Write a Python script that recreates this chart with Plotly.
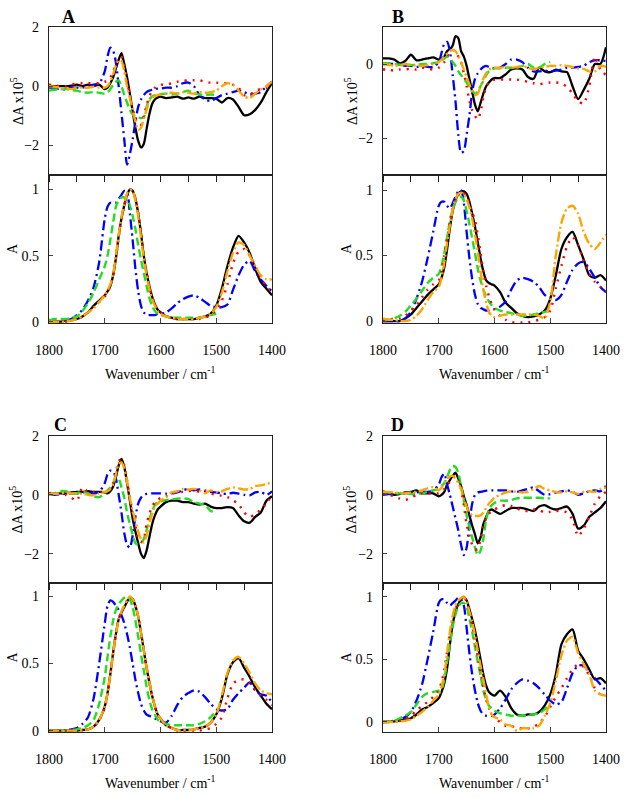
import plotly.graph_objects as go

# ---------------- data ----------------
G = [1800, 1790, 1780, 1770, 1760, 1750, 1740, 1730, 1720, 1710,
     1700, 1695, 1690, 1685, 1680, 1675, 1670, 1665, 1660, 1655, 1650, 1645, 1640, 1635, 1630, 1625, 1620, 1615, 1610, 1605, 1600,
     1590, 1580, 1570, 1560, 1550, 1540, 1530, 1520, 1510, 1500, 1490, 1480, 1470, 1460, 1450, 1440, 1430, 1420, 1410, 1400]

panel_letters = ["A", "B", "C", "D"]
x_tick_vals = [1800, 1700, 1600, 1500, 1400]
top_tick_vals = [-2, 0, 2]
bot_tick_vals = [0, 0.5, 1]
bot_tick_text = ["0", "0.5", "1"]

# ---- Panel A ----
A_top_black = [0, 0, 0, 0, 0.02, 0.05, 0.0, 0.05, 0.0, 0.05,
               -0.1, -0.05, 0.1, 0.3, 0.6, 0.9, 1.12, 0.75, 0.3, -0.25, -0.85, -1.4, -1.85, -2.07, -1.95, -1.45, -0.95, -0.6, -0.45, -0.38, -0.35,
               -0.4, -0.38, -0.35, -0.42, -0.38, -0.42, -0.35, -0.4, -0.4, -0.42, -0.55, -0.4, -0.45, -0.7, -0.98, -0.95, -0.8, -0.55, -0.2, 0.1]
A_top_blue = [-0.05, -0.05, -0.1, -0.1, -0.05, -0.05, -0.05, 0, 0.05, 0.1,
              0.5, 1.0, 1.3, 1.2, 0.8, 0.0, -0.9, -1.8, -2.65, -2.3, -1.8, -1.2, -0.7, -0.45, -0.3, -0.2, -0.15, -0.12, -0.1, -0.08, -0.08,
              -0.05, -0.05, 0.0, 0.1, 0.12, 0.0, -0.3, -0.45, -0.5, -0.4, -0.3, -0.25, -0.2, -0.15, -0.2, -0.28, -0.25, -0.2, 0.0, 0.15]
A_top_red = [0.05, 0.03, 0.0, 0.0, 0.05, 0.1, 0.1, 0.1, 0.1, 0.1,
             0.15, 0.2, 0.3, 0.48, 0.75, 0.95, 1.0, 0.7, 0.2, -0.3, -0.75, -1.1, -1.3, -1.3, -1.0, -0.65, -0.35, -0.15, -0.05, 0.0, 0.05,
             0.05, 0.1, 0.15, 0.18, 0.2, 0.2, 0.2, 0.15, 0.12, 0.12, 0.1, 0.1, 0.05, -0.05, -0.3, -0.3, -0.15, -0.1, -0.05, 0.1]
A_top_orange = [0.0, -0.02, -0.05, -0.08, -0.1, -0.05, -0.05, -0.05, -0.02, -0.05,
                -0.05, 0.0, 0.15, 0.4, 0.7, 0.88, 0.85, 0.5, 0.0, -0.4, -0.8, -1.2, -1.48, -1.4, -1.1, -0.8, -0.5, -0.4, -0.33, -0.3, -0.28,
                -0.25, -0.22, -0.25, -0.2, -0.22, -0.25, -0.2, -0.22, -0.2, -0.15, 0.0, 0.1, 0.05, -0.15, -0.35, -0.4, -0.25, -0.1, 0.0, 0.15]
A_top_green = [-0.15, -0.12, -0.1, -0.1, -0.12, -0.15, -0.2, -0.22, -0.2, -0.22,
               -0.25, -0.2, -0.1, 0.05, 0.15, 0.2, 0.0, -0.3, -0.55, -0.8, -0.95, -1.02, -1.05, -1.08, -1.05, -0.7, -0.45, -0.35, -0.3, -0.28, -0.27,
               -0.25, -0.28, -0.25, -0.2, -0.15, -0.25, -0.28, -0.3, -0.28, -0.3]

A_bot_black = [0.0, 0.0, 0.0, 0.01, 0.01, 0.02, 0.04, 0.07, 0.12, 0.16,
               0.2, 0.23, 0.27, 0.35, 0.48, 0.65, 0.78, 0.88, 0.96, 1.0, 0.99, 0.93, 0.82, 0.67, 0.5, 0.37, 0.27, 0.19, 0.13, 0.09, 0.07,
               0.04, 0.03, 0.02, 0.02, 0.02, 0.02, 0.03, 0.04, 0.06, 0.12, 0.25, 0.42, 0.56, 0.65, 0.6, 0.52, 0.4, 0.3, 0.25, 0.2]
A_bot_blue = [0.0, 0.0, 0.0, 0.01, 0.02, 0.05, 0.09, 0.16, 0.26, 0.45,
              0.78, 0.87, 0.9, 0.9, 0.9, 0.93, 0.96, 0.99, 0.98, 0.82, 0.62, 0.4, 0.23, 0.12, 0.07, 0.05, 0.05, 0.05, 0.05, 0.06, 0.06,
              0.07, 0.1, 0.14, 0.17, 0.19, 0.2, 0.18, 0.15, 0.12, 0.11, 0.11, 0.13, 0.24, 0.35, 0.43, 0.46, 0.38, 0.32, 0.27, 0.23]
A_bot_red = [0.0, 0.0, 0.0, 0.0, 0.01, 0.02, 0.04, 0.07, 0.11, 0.15,
             0.19, 0.22, 0.27, 0.35, 0.48, 0.64, 0.78, 0.88, 0.96, 1.0, 0.99, 0.93, 0.82, 0.67, 0.5, 0.37, 0.27, 0.19, 0.13, 0.09, 0.07,
             0.04, 0.03, 0.02, 0.02, 0.02, 0.02, 0.02, 0.03, 0.05, 0.09, 0.16, 0.28, 0.44, 0.53, 0.55, 0.5, 0.42, 0.33, 0.27, 0.22]
A_bot_orange = [0.0, 0.0, 0.0, 0.0, 0.01, 0.02, 0.04, 0.07, 0.1, 0.15,
                0.2, 0.24, 0.28, 0.36, 0.5, 0.66, 0.79, 0.89, 0.97, 1.0, 0.99, 0.92, 0.8, 0.64, 0.48, 0.35, 0.25, 0.17, 0.12, 0.08, 0.06,
                0.04, 0.03, 0.02, 0.02, 0.02, 0.02, 0.03, 0.04, 0.06, 0.11, 0.22, 0.38, 0.52, 0.6, 0.58, 0.5, 0.42, 0.35, 0.32, 0.32]
A_bot_green = [0.01, 0.02, 0.02, 0.02, 0.03, 0.04, 0.08, 0.14, 0.22, 0.32,
               0.42, 0.5, 0.62, 0.75, 0.87, 0.92, 0.94, 0.94, 0.93, 0.88, 0.8, 0.7, 0.58, 0.47, 0.37, 0.27, 0.18, 0.12, 0.08, 0.06, 0.05,
               0.04, 0.03, 0.03, 0.03, 0.03, 0.03, 0.03, 0.04, 0.05, 0.06]

# ---- Panel B ----
B_top_black = [0.15, 0.15, 0.12, 0.02, 0.08, 0.25, 0.1, 0.12, 0.15, 0.18,
               0.12, 0.15, 0.2, 0.35, 0.4, 0.5, 0.75, 0.7, 0.35, 0.2, -0.05, -0.4, -0.75, -1.1, -1.28, -1.05, -0.8, -0.6, -0.5, -0.42, -0.38,
               -0.38, -0.28, -0.15, -0.12, -0.15, -0.35, -0.4, -0.1, -0.2, -0.22, -0.15, -0.2, -0.22, -0.6, -0.95, -0.7, -0.4, 0.0, 0.0, 0.45]
B_top_blue = [0.0, 0.0, 0.0, -0.02, -0.05, -0.05, -0.08, -0.05, -0.08, -0.08,
              0.05, 0.3, 0.55, 0.6, 0.35, -0.3, -1.0, -1.9, -2.4, -2.35, -1.9, -1.4, -0.75, -0.4, -0.25, -0.15, -0.08, -0.05, -0.08, -0.1, -0.12,
              -0.1, 0.0, 0.12, 0.12, 0.05, -0.1, -0.2, -0.2, -0.18, -0.2, -0.18, -0.15, -0.1, -0.1, -0.08, -0.05, 0.05, 0.1, 0.1, 0.08]
B_top_red = [-0.15, -0.15, -0.18, -0.15, -0.15, -0.12, -0.15, -0.1, -0.12, -0.15,
             -0.1, -0.05, 0.05, 0.2, 0.35, 0.38, 0.35, 0.2, 0.05, -0.25, -0.6, -1.0, -1.25, -1.4, -1.5, -1.3, -0.9, -0.62, -0.5, -0.45, -0.43,
             -0.42, -0.42, -0.42, -0.42, -0.45, -0.48, -0.52, -0.55, -0.52, -0.5, -0.5, -0.52, -0.62, -0.8, -1.0, -1.07, -0.6, 0.2, -0.15, -0.3]
B_top_orange = [0.0, -0.02, -0.05, -0.03, 0.0, -0.02, -0.05, -0.05, -0.03, 0.0,
                0.05, 0.12, 0.2, 0.28, 0.35, 0.38, 0.35, 0.22, 0.05, -0.15, -0.35, -0.55, -0.75, -0.84, -0.8, -0.6, -0.4, -0.25, -0.15, -0.12, -0.1,
                -0.1, -0.08, -0.1, -0.08, -0.05, -0.1, -0.15, -0.1, -0.08, -0.05, -0.05, -0.03, -0.05, -0.08, -0.12, -0.13, -0.2, -0.2, -0.05, -0.08]
B_top_green = [0.02, 0.02, 0.0, -0.02, -0.05, -0.03, -0.02, 0.0, 0.0, 0.02,
               0.05, 0.1, 0.15, 0.2, 0.15, 0.05, -0.05, -0.2, -0.3, -0.4, -0.5, -0.62, -0.72, -0.8, -0.75, -0.6, -0.45, -0.3, -0.2, -0.15, -0.12,
               -0.12, -0.1, -0.1, -0.1, -0.05, 0.0, -0.1, -0.1, 0.0, 0.05]

B_bot_black = [0.0, 0.0, 0.0, 0.0, 0.02, 0.05, 0.1, 0.15, 0.2, 0.24,
               0.28, 0.33, 0.41, 0.55, 0.71, 0.84, 0.92, 0.97, 0.99, 0.99, 0.97, 0.91, 0.82, 0.72, 0.6, 0.48, 0.38, 0.31, 0.29, 0.28, 0.27,
               0.22, 0.14, 0.1, 0.06, 0.04, 0.03, 0.035, 0.05, 0.08, 0.17, 0.35, 0.55, 0.64, 0.68, 0.58, 0.47, 0.35, 0.33, 0.35, 0.31]
B_bot_blue = [0.0, 0.0, 0.0, 0.0, 0.02, 0.07, 0.17, 0.3, 0.48, 0.68,
              0.88, 0.91, 0.91, 0.88, 0.86, 0.9, 0.95, 0.99, 1.0, 0.9, 0.68, 0.48, 0.32, 0.2, 0.13, 0.1, 0.09, 0.08, 0.08, 0.09, 0.09,
              0.11, 0.15, 0.24, 0.31, 0.33, 0.32, 0.3, 0.26, 0.2, 0.17, 0.16, 0.2, 0.3, 0.39, 0.44, 0.45, 0.4, 0.33, 0.26, 0.22]
B_bot_red = [0.01, 0.01, 0.02, 0.02, 0.04, 0.08, 0.12, 0.18, 0.24, 0.28,
             0.31, 0.38, 0.5, 0.63, 0.76, 0.86, 0.92, 0.96, 0.99, 0.98, 0.95, 0.89, 0.83, 0.77, 0.66, 0.52, 0.38, 0.27, 0.19, 0.13, 0.09,
             0.04, 0.01, -0.01, -0.01, -0.01, -0.01, 0.0, 0.01, 0.03, 0.08, 0.25, 0.42, 0.57, 0.64, 0.58, 0.46, 0.36, 0.3, 0.26, 0.22]
B_bot_orange = [0.02, 0.01, 0.01, 0.0, 0.0, 0.01, 0.04, 0.09, 0.16, 0.22,
                0.26, 0.33, 0.45, 0.6, 0.73, 0.85, 0.93, 0.97, 0.98, 0.97, 0.93, 0.87, 0.78, 0.66, 0.53, 0.38, 0.24, 0.14, 0.07, 0.04, 0.03,
                0.04, 0.05, 0.05, 0.05, 0.05, 0.05, 0.05, 0.04, 0.02, 0.15, 0.5, 0.75, 0.86, 0.88, 0.82, 0.68, 0.59, 0.55, 0.6, 0.66]
B_bot_green = [0.01, 0.01, 0.02, 0.04, 0.07, 0.12, 0.17, 0.23, 0.29, 0.33,
               0.36, 0.42, 0.52, 0.64, 0.76, 0.85, 0.91, 0.94, 0.95, 0.92, 0.84, 0.74, 0.63, 0.52, 0.4, 0.31, 0.24, 0.19, 0.15, 0.12, 0.1,
               0.08, 0.07, 0.06, 0.05, 0.04, 0.04, 0.05, 0.06, 0.07, 0.08]

# ---- Panel C ----
C_top_black = [0.03, 0.03, 0.05, 0.05, 0.08, 0.1, 0.1, 0.12, 0.1, 0.1,
               0.08, 0.05, 0.12, 0.28, 0.6, 1.0, 1.22, 0.95, 0.4, -0.2, -0.8, -1.25, -1.65, -2.0, -2.15, -1.9, -1.45, -1.0, -0.7, -0.5, -0.4,
               -0.25, -0.2, -0.2, -0.25, -0.25, -0.3, -0.33, -0.3, -0.4, -0.45, -0.45, -0.42, -0.45, -0.7, -0.9, -0.95, -0.75, -0.6, -0.2, -0.05]
C_top_blue = [0.03, 0.0, 0.02, 0.05, 0.05, 0.05, 0.08, 0.08, 0.05, 0.1,
              0.4, 0.7, 0.82, 0.8, 0.55, 0.0, -0.6, -1.3, -1.7, -1.8, -1.4, -0.75, -0.3, -0.1, 0.0, 0.03, 0.04, 0.05, 0.05, 0.05, 0.05,
              0.04, 0.05, 0.08, 0.15, 0.2, 0.15, 0.18, 0.12, 0.1, 0.08, 0.05, 0.03, 0.07, 0.04, 0.0, -0.02, 0.08, 0.1, 0.0, 0.12]
C_top_red = [0.05, 0.05, 0.03, 0.0, -0.1, -0.2, 0.25, 0.1, 0.1, 0.1,
             0.1, 0.12, 0.2, 0.37, 0.75, 1.15, 1.2, 1.0, 0.5, -0.1, -0.6, -1.05, -1.5, -1.6, -1.5, -1.0, -0.65, -0.4, -0.25, -0.18, -0.1,
             -0.05, 0.05, 0.08, 0.1, 0.12, 0.15, 0.1, 0.15, 0.05, 0.0, -0.03, -0.08, -0.18, -0.32, -0.6, -0.75, -0.65, -0.5, -0.3, 0.0]
C_top_orange = [0.02, 0.03, 0.05, 0.08, 0.05, 0.05, 0.03, 0.0, -0.02, 0.05,
                0.1, 0.12, 0.2, 0.35, 0.7, 1.05, 1.1, 0.9, 0.45, -0.1, -0.55, -0.9, -1.25, -1.5, -1.62, -1.4, -1.0, -0.65, -0.4, -0.3, -0.2,
                -0.08, 0.08, 0.12, 0.2, 0.18, 0.2, 0.15, 0.05, 0.15, 0.1, 0.12, 0.2, 0.25, 0.22, 0.18, 0.2, 0.3, 0.32, 0.37, 0.42]
C_top_green = [0.0, 0.05, 0.12, 0.12, 0.05, 0.05, 0.12, 0.05, -0.05, -0.08,
               0.05, 0.15, 0.25, 0.4, 0.6, 0.55, 0.25, -0.1, -0.6, -1.0, -1.35, -1.65, -1.7, -1.65, -1.5, -1.2, -0.85, -0.55, -0.35, -0.25, -0.22,
               -0.18, -0.15, -0.13, -0.12, -0.15, -0.25, -0.3, -0.35, -0.55, -0.6]

C_bot_black = [0.0, 0.0, 0.0, 0.0, 0.0, 0.0, 0.005, 0.01, 0.03, 0.08,
               0.18, 0.28, 0.42, 0.58, 0.72, 0.83, 0.88, 0.92, 0.96, 0.99, 0.98, 0.93, 0.85, 0.73, 0.6, 0.47, 0.36, 0.26, 0.18, 0.12, 0.09,
               0.04, 0.02, 0.005, 0.005, 0.005, 0.01, 0.02, 0.03, 0.06, 0.12, 0.24, 0.42, 0.51, 0.54, 0.47, 0.4, 0.32, 0.26, 0.2, 0.16]
C_bot_blue = [0.0, 0.0, 0.0, 0.005, 0.01, 0.02, 0.05, 0.1, 0.24, 0.5,
              0.8, 0.93, 0.97, 0.96, 0.93, 0.9, 0.86, 0.8, 0.72, 0.62, 0.5, 0.38, 0.28, 0.2, 0.15, 0.12, 0.11, 0.1, 0.09, 0.08, 0.07,
              0.06, 0.11, 0.19, 0.25, 0.28, 0.3, 0.29, 0.25, 0.2, 0.16, 0.15, 0.16, 0.23, 0.28, 0.32, 0.36, 0.3, 0.27, 0.26, 0.21]
C_bot_red = [0.0, 0.0, 0.0, 0.0, 0.0, 0.0, 0.005, 0.01, 0.03, 0.08,
             0.17, 0.27, 0.41, 0.57, 0.72, 0.83, 0.89, 0.93, 0.97, 0.99, 0.98, 0.93, 0.85, 0.73, 0.6, 0.47, 0.36, 0.26, 0.18, 0.12, 0.08,
             0.04, 0.02, 0.0, 0.0, 0.0, 0.0, 0.0, 0.01, 0.02, 0.05, 0.1, 0.24, 0.35, 0.38, 0.38, 0.35, 0.3, 0.26, 0.23, 0.19]
C_bot_orange = [0.0, 0.0, 0.0, 0.0, 0.0, 0.0, 0.005, 0.01, 0.03, 0.08,
                0.18, 0.28, 0.42, 0.58, 0.72, 0.83, 0.89, 0.93, 0.97, 1.0, 0.98, 0.93, 0.85, 0.73, 0.6, 0.47, 0.36, 0.26, 0.18, 0.12, 0.09,
                0.04, 0.02, 0.005, 0.005, 0.005, 0.01, 0.02, 0.03, 0.06, 0.12, 0.26, 0.43, 0.52, 0.55, 0.5, 0.43, 0.35, 0.3, 0.28, 0.27]
C_bot_green = [0.0, 0.0, 0.0, 0.0, 0.005, 0.01, 0.02, 0.04, 0.08, 0.2,
               0.4, 0.55, 0.7, 0.82, 0.9, 0.94, 0.97, 0.99, 1.0, 0.98, 0.92, 0.82, 0.7, 0.57, 0.45, 0.33, 0.23, 0.16, 0.12, 0.08, 0.07,
               0.05, 0.04, 0.04, 0.04, 0.04, 0.04, 0.05, 0.07, 0.1, 0.15]

# ---- Panel D ----
D_top_black = [0.12, 0.05, 0.0, 0.03, 0.08, 0.1, 0.15, 0.05, 0.05, 0.05,
               -0.05, 0.0, 0.1, 0.35, 0.5, 0.65, 0.75, 0.55, 0.3, -0.05, -0.35, -0.7, -1.05, -1.35, -1.65, -1.45, -1.0, -0.75, -0.55, -0.5, -0.55,
               -0.65, -0.55, -0.45, -0.45, -0.45, -0.5, -0.55, -0.4, -0.35, -0.45, -0.5, -0.45, -0.4, -0.65, -1.15, -1.05, -0.75, -0.6, -0.45, -0.22]
D_top_blue = [0.0, 0.02, 0.03, 0.05, 0.05, 0.08, 0.08, 0.1, 0.1, 0.15,
              0.35, 0.6, 0.72, 0.35, 0.0, -0.4, -0.8, -1.2, -1.7, -2.05, -1.8, -1.0, -0.3, 0.0, 0.08, 0.1, 0.12, 0.14, 0.15, 0.15, 0.15,
              0.15, 0.15, 0.12, 0.1, 0.15, 0.2, 0.25, 0.12, 0.0, 0.02, 0.08, 0.12, 0.15, 0.1, 0.0, 0.05, 0.12, 0.15, 0.12, 0.3]
D_top_red = [0.05, 0.0, -0.05, -0.13, -0.17, -0.1, 0.0, 0.05, 0.05, 0.05,
             0.05, 0.1, 0.2, 0.35, 0.45, 0.6, 0.65, 0.5, 0.2, -0.35, -1.0, -1.4, -1.7, -1.85, -1.85, -1.5, -1.1, -0.8, -0.65, -0.55, -0.5,
             -0.4, -0.35, -0.38, -0.45, -0.55, -0.55, -0.5, -0.52, -0.6, -0.58, -0.55, -0.55, -0.6, -0.85, -1.4, -1.15, -0.75, -0.3, -0.05, 0.1]
D_top_orange = [0.1, 0.1, 0.08, 0.05, 0.05, 0.08, 0.1, 0.15, 0.22, 0.26,
                0.15, 0.25, 0.4, 0.55, 0.62, 0.65, 0.55, 0.4, 0.2, -0.15, -0.4, -0.6, -0.7, -0.72, -0.72, -0.7, -0.6, -0.45, -0.3, -0.2, -0.1,
                0.0, 0.08, 0.12, 0.1, 0.08, 0.1, 0.2, 0.3, 0.2, 0.15, 0.1, 0.08, 0.12, 0.08, 0.03, 0.1, 0.12, 0.1, 0.2, 0.25]
D_top_green = [0.1, 0.08, 0.06, 0.05, 0.05, 0.03, 0.03, 0.05, 0.1, 0.15,
               0.2, 0.3, 0.4, 0.6, 0.85, 0.98, 0.95, 0.75, 0.3, -0.2, -0.7, -1.1, -1.45, -1.8, -2.05, -1.9, -1.5, -0.85, -0.5, -0.35, -0.28,
               -0.2, -0.2, -0.18, -0.12, -0.1, -0.1, -0.1, -0.1, -0.12, -0.12]

D_bot_black = [0.0, 0.0, 0.005, 0.01, 0.02, 0.03, 0.06, 0.1, 0.12, 0.15,
               0.19, 0.24, 0.31, 0.43, 0.62, 0.78, 0.88, 0.94, 0.98, 1.0, 0.97, 0.9, 0.82, 0.73, 0.62, 0.5, 0.38, 0.29, 0.24, 0.22, 0.21,
               0.25, 0.2, 0.11, 0.06, 0.05, 0.06, 0.06, 0.08, 0.13, 0.22, 0.38, 0.62, 0.7, 0.74, 0.57, 0.5, 0.42, 0.34, 0.35, 0.31]
D_bot_blue = [0.0, 0.005, 0.01, 0.02, 0.04, 0.08, 0.17, 0.3, 0.5, 0.72,
              0.95, 0.98, 0.98, 0.95, 0.93, 0.95, 0.97, 0.99, 0.98, 0.93, 0.75, 0.55, 0.38, 0.25, 0.15, 0.09, 0.06, 0.05, 0.05, 0.05, 0.06,
              0.11, 0.18, 0.26, 0.31, 0.34, 0.33, 0.31, 0.27, 0.22, 0.17, 0.14, 0.16, 0.27, 0.39, 0.45, 0.45, 0.4, 0.35, 0.3, 0.25]
D_bot_red = [0.0, 0.0, 0.005, 0.01, 0.02, 0.05, 0.09, 0.13, 0.16, 0.2,
             0.25, 0.32, 0.42, 0.56, 0.7, 0.82, 0.9, 0.95, 0.99, 1.0, 0.96, 0.88, 0.77, 0.65, 0.52, 0.4, 0.28, 0.18, 0.11, 0.06, 0.03,
             0.0, -0.03, -0.03, -0.05, -0.05, -0.05, -0.04, -0.01, 0.04, 0.12, 0.2, 0.27, 0.35, 0.42, 0.46, 0.44, 0.37, 0.27, 0.22, 0.21]
D_bot_orange = [0.0, 0.0, 0.0, 0.005, 0.01, 0.02, 0.05, 0.08, 0.12, 0.17,
                0.22, 0.28, 0.38, 0.55, 0.72, 0.85, 0.93, 0.97, 0.99, 1.0, 0.96, 0.88, 0.8, 0.69, 0.57, 0.45, 0.34, 0.22, 0.12, 0.06, 0.04,
                0.02, -0.02, -0.03, -0.07, -0.05, -0.05, -0.05, -0.03, 0.05, 0.15, 0.33, 0.53, 0.65, 0.68, 0.55, 0.46, 0.38, 0.25, 0.22, 0.21]
D_bot_green = [0.0, 0.005, 0.01, 0.03, 0.05, 0.08, 0.14, 0.2, 0.23, 0.24,
               0.25, 0.26, 0.34, 0.48, 0.62, 0.76, 0.86, 0.92, 0.95, 0.95, 0.92, 0.83, 0.72, 0.6, 0.48, 0.37, 0.25, 0.18, 0.13, 0.11, 0.09,
               0.07, 0.06, 0.05, 0.05, 0.05, 0.06, 0.06, 0.07, 0.1, 0.15]

top_ranges = {"A": [-3, 2], "B": [-3, 1], "C": [-3, 2], "D": [-3, 2]}
bot_ranges = {"A": [-0.01, 1.11], "B": [-0.015, 1.115], "C": [-0.01, 1.10], "D": [-0.08, 1.11]}

data = {
    "A": ([A_top_black, A_top_blue, A_top_red, A_top_orange, A_top_green],
          [A_bot_black, A_bot_blue, A_bot_red, A_bot_orange, A_bot_green]),
    "B": ([B_top_black, B_top_blue, B_top_red, B_top_orange, B_top_green],
          [B_bot_black, B_bot_blue, B_bot_red, B_bot_orange, B_bot_green]),
    "C": ([C_top_black, C_top_blue, C_top_red, C_top_orange, C_top_green],
          [C_bot_black, C_bot_blue, C_bot_red, C_bot_orange, C_bot_green]),
    "D": ([D_top_black, D_top_blue, D_top_red, D_top_orange, D_top_green],
          [D_bot_black, D_bot_blue, D_bot_red, D_bot_orange, D_bot_green]),
}

# ---------------- styling / layout ----------------
W, H = 626, 797
styles = [
    dict(color="black", width=2.3, dash="solid"),
    dict(color="#0000FF", width=2.3, dash="10px,4px,2px,4px"),
    dict(color="#FF0000", width=2.4, dash="2px,6px"),
    dict(color="#FFA500", width=2.4, dash="10px,3px,2px,3px"),
    dict(color="#22DD22", width=2.4, dash="8px,4px"),
]
draw_order = [0, 1, 4, 2, 3]

col_px = {"A": (49, 272), "B": (383, 606), "C": (49, 272), "D": (383, 606)}
row_px = {"A": (27, 175, 323), "B": (27, 175, 323), "C": (436, 583, 732), "D": (436, 583, 732)}

FONT = "Liberation Serif, Times New Roman, serif"
fig = go.Figure()
layout = dict(width=W, height=H, margin=dict(l=0, r=0, t=0, b=0, autoexpand=False),
              paper_bgcolor="white", plot_bgcolor="white", showlegend=False,
              font=dict(family=FONT, size=14, color="black"))
annotations = []


def xd(px):
    return px / W


def yd(py):
    return 1 - py / H


axis_line = dict(showline=True, linecolor="#222222", linewidth=1.3, mirror=True,
                 showgrid=False, zeroline=False, automargin=False)

for k, p in enumerate(panel_letters):
    itop, ibot = 2 * k + 1, 2 * k + 2
    x0, x1 = col_px[p]
    ytop, ymid, ybot = row_px[p]
    xdom = [xd(x0), xd(x1)]
    layout[f"xaxis{itop}"] = dict(domain=xdom, anchor=f"y{itop}", range=[1800, 1400],
                                  showticklabels=False, ticks="outside", ticklen=6, tickwidth=1,
                                  tick0=1400, dtick=50, tickcolor="#222222", **axis_line)
    layout[f"yaxis{itop}"] = dict(domain=[yd(ymid), yd(ytop)], anchor=f"x{itop}", range=top_ranges[p],
                                  tickvals=top_tick_vals, ticks="inside", ticklen=4,
                                  tickfont=dict(family=FONT, size=14), ticklabelstandoff=6, **axis_line)
    layout[f"xaxis{ibot}"] = dict(domain=xdom, anchor=f"y{ibot}", range=[1800, 1400],
                                  tickvals=x_tick_vals, ticks="inside", ticklen=5,
                                  tickfont=dict(family=FONT, size=14), ticklabelstandoff=14, **axis_line)
    layout[f"yaxis{ibot}"] = dict(domain=[yd(ybot), yd(ymid)], anchor=f"x{ibot}", range=bot_ranges[p],
                                  tickvals=bot_tick_vals, ticktext=bot_tick_text, ticks="inside", ticklen=4,
                                  tickfont=dict(family=FONT, size=14), ticklabelstandoff=6, **axis_line)

    tops, bots = data[p]
    for idx in draw_order:
        for series, ax in ((tops[idx], itop), (bots[idx], ibot)):
            fig.add_trace(go.Scatter(x=G[:len(series)], y=series, mode="lines",
                                     line=dict(shape="spline", smoothing=0.7, **styles[idx]),
                                     xaxis=f"x{ax}", yaxis=f"y{ax}", hoverinfo="skip"))

    # panel letter
    letter_x = {"A": 68, "B": 398, "C": 60, "D": 397}[p]
    letter_y = {"A": 17, "B": 17, "C": 425, "D": 425}[p]
    annotations.append(dict(text=f"<b>{p}</b>", x=xd(letter_x), y=yd(letter_y), xref="paper", yref="paper",
                            showarrow=False, xanchor="center", yanchor="middle",
                            font=dict(family=FONT, size=18, color="black")))
    # y titles
    ytx = x0 - 32
    annotations.append(dict(text="ΔA x10<sup>5</sup>", x=xd(ytx), y=yd((ytop + ymid) / 2), xref="paper", yref="paper",
                            showarrow=False, textangle=-90, xanchor="center", yanchor="middle",
                            font=dict(family=FONT, size=14, color="black")))
    annotations.append(dict(text="A", x=xd(x0 - 37), y=yd((ymid + ybot) / 2), xref="paper", yref="paper",
                            showarrow=False, textangle=-90, xanchor="center", yanchor="middle",
                            font=dict(family=FONT, size=14, color="black")))
    # x title
    annotations.append(dict(text="Wavenumber / cm<sup>-1</sup>", x=xd((x0 + x1) / 2), y=yd(ybot + 50),
                            xref="paper", yref="paper", showarrow=False, xanchor="center", yanchor="middle",
                            font=dict(family=FONT, size=14, color="black")))

layout["annotations"] = annotations
fig.update_layout(**layout)
fig.write_html("out.html", config={"displayModeBar": False},
               post_script="document.body.style.margin='0';")
